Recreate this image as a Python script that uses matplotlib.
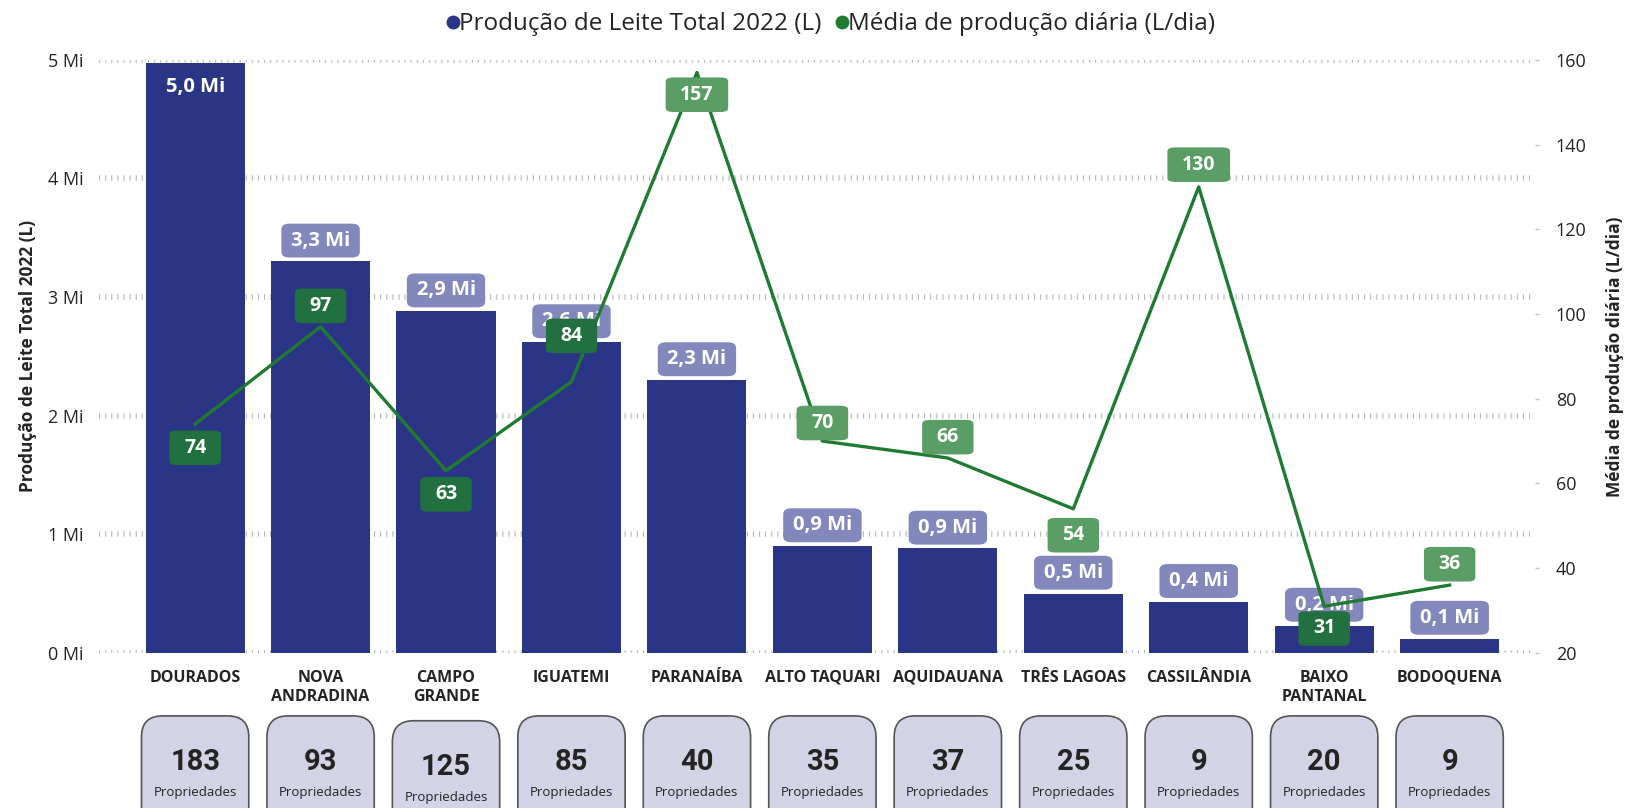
import matplotlib.pyplot as plt
from matplotlib.patches import FancyBboxPatch
from matplotlib.lines import Line2D

plt.rcParams['font.family'] = ['Open Sans', 'DejaVu Sans']
plt.rcParams['lines.scale_dashes'] = False

# dados
regioes = ['DOURADOS', 'NOVA\nANDRADINA', 'CAMPO\nGRANDE', 'IGUATEMI', 'PARANAÍBA',
           'ALTO TAQUARI', 'AQUIDAUANA', 'TRÊS LAGOAS', 'CASSILÂNDIA', 'BAIXO\nPANTANAL',
           'BODOQUENA']
producao_mi = [4.97, 3.30, 2.88, 2.62, 2.30, 0.90, 0.88, 0.50, 0.43, 0.23, 0.12]
producao_txt = ['5,0 Mi', '3,3 Mi', '2,9 Mi', '2,6 Mi', '2,3 Mi', '0,9 Mi', '0,9 Mi',
                '0,5 Mi', '0,4 Mi', '0,2 Mi', '0,1 Mi']
media_dia = [74, 97, 63, 84, 157, 70, 66, 54, 130, 31, 36]
propriedades = [183, 93, 125, 85, 40, 35, 37, 25, 9, 20, 9]

# deslocamento vertical (pt) dos rótulos da linha
desloc_linha = [-17, 15, -17, 33, -16, 13, 15, -19, 16, -16, 15]

azul = '#2B3585'
verde = '#1F7A32'
roxo_claro = '#8288BC'
verde_claro = '#5A9E65'
verde_escuro = '#22703F'
texto = '#252423'

fig = plt.figure(figsize=(16.26, 8.08), dpi=100)
ax = fig.add_axes([0.0606, 0.192, 0.8834, 0.734])
ax2 = ax.twinx()

x = list(range(len(regioes)))
ax.bar(x, producao_mi, width=0.79, color=azul, zorder=2)
ax.set_xlim(-0.77, 10.68)
ax.set_ylim(0, 5)
ax.set_yticks([0, 1, 2, 3, 4, 5])
ax.set_yticklabels([f'{v} Mi' for v in range(6)])
ax.grid(axis='y', color='#B8B8B8', linestyle=(0, (0.8, 3.6)), linewidth=4,
        dash_capstyle='butt', zorder=0)
ax.set_axisbelow(True)
ax.set_xticks(x)
ax.set_xticklabels(regioes, fontweight='bold', fontsize=11.5, color=texto,
                   linespacing=1.25, va='top')
ax.tick_params(axis='x', length=0, pad=12)
ax.tick_params(axis='y', length=0, labelsize=13, labelcolor=texto, pad=11)
for s in ax.spines.values():
    s.set_visible(False)
ax.set_ylabel('Produção de Leite Total 2022 (L)', fontsize=12.5, fontweight='bold',
              color=texto, labelpad=8)

ax2.plot(x, media_dia, color=verde, linewidth=2.4, zorder=3)
ax2.set_ylim(20, 160)
ax2.set_yticks(range(20, 161, 20))
ax2.tick_params(axis='y', length=3, width=1, color='#C4C4C4', labelsize=13,
                labelcolor=texto, pad=12)
for s in ax2.spines.values():
    s.set_visible(False)
ax2.set_ylabel('Média de produção diária (L/dia)', fontsize=12.5, fontweight='bold',
               color=texto, labelpad=14)

# rótulos das barras
for i, (v, t) in enumerate(zip(producao_mi, producao_txt)):
    if i == 0:
        ax.annotate(t, (i, v), xytext=(0, -17), textcoords='offset points',
                    ha='center', va='center', color='white', fontsize=14.5,
                    fontweight='bold', zorder=5)
    else:
        ax.annotate(t, (i, v), xytext=(0, 15), textcoords='offset points',
                    ha='center', va='center', color='white', fontsize=14.5,
                    fontweight='bold', zorder=5,
                    bbox=dict(boxstyle='round,pad=0.48,rounding_size=0.4',
                              fc=roxo_claro, ec='none', mutation_aspect=0.72))

# rótulos da linha (fundo escuro quando o rótulo encosta na barra)
for i, (v, d) in enumerate(zip(media_dia, desloc_linha)):
    y_px = ax2.transData.transform((i, v))[1] + d / 0.72
    y_bar = ax.transData.transform((i, producao_mi[i]))[1]
    cor = verde_escuro if y_px - 14 < y_bar else verde_claro
    ax2.annotate(str(v), (i, v), xytext=(0, d), textcoords='offset points',
                 ha='center', va='center', color='white', fontsize=14,
                 fontweight='bold', zorder=6,
                 bbox=dict(boxstyle='round,pad=0.75,rounding_size=0.4',
                           fc=cor, ec='none', mutation_aspect=0.5))

# caixas de propriedades
for i, n in enumerate(propriedades):
    xc = ax.transData.transform((i, 0))[0] / fig.bbox.width
    y0 = -0.006 if i == 2 else 0.0
    caixa = FancyBboxPatch((xc - 0.033, y0 - 0.05), 0.066, 0.164,
                           boxstyle='round,pad=0,rounding_size=0.013',
                           transform=fig.transFigure, fc='#D2D4E6', ec='#555555',
                           lw=1.2, mutation_aspect=2.0)
    fig.patches.append(caixa)
    fig.text(xc, y0 + 0.057, str(n), ha='center', va='center', fontsize=21,
             fontweight='bold', color=texto, family=['Roboto', 'DejaVu Sans'])
    fig.text(xc, y0 + 0.019, 'Propriedades', ha='center', va='center', fontsize=9.5,
             color=texto)

# legenda
handles = [Line2D([], [], marker='o', color='none', markerfacecolor=azul,
                  markeredgecolor=azul, markersize=9),
           Line2D([], [], marker='o', color='none', markerfacecolor=verde,
                  markeredgecolor=verde, markersize=9)]
fig.legend(handles, ['Produção de Leite Total 2022 (L)', 'Média de produção diária (L/dia)'],
           loc='center', bbox_to_anchor=(0.509, 0.970), ncol=2, frameon=False,
           fontsize=17.5, handletextpad=-0.3, columnspacing=0.3, labelcolor=texto,
           handlelength=1.1)

fig.savefig('out.png', dpi=100)
